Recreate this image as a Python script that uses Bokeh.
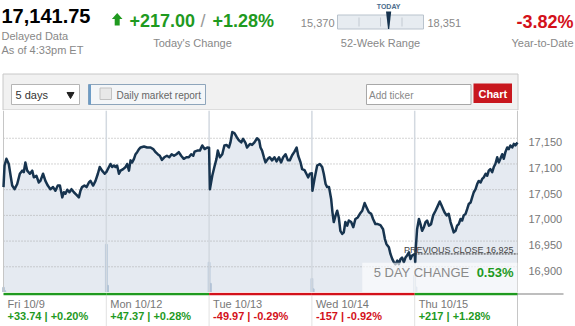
import numpy as np
from bokeh.plotting import figure
from bokeh.layouts import column
from bokeh.models import Range1d
from bokeh.core.properties import value
from bokeh.embed import file_html
from bokeh.resources import INLINE

# ---------------- quote summary ----------------
last_price = 17141.75
day_change = 217.00
day_change_pct = 1.28
low_52w = 15370
high_52w = 18351
ytd_pct = -3.82
as_of = "As of 4:33pm ET"

# ---------------- 5-day intraday index levels ----------------
# minutes after the 9:30 open, and index level at that minute
fri_t = [0, 4, 11, 20, 27, 33, 42, 52, 62, 71, 77, 83, 90, 100, 109, 115, 125, 134, 140, 150,
         159, 168, 178, 188, 197, 206, 214, 223, 229, 235, 242, 250, 258, 267, 277, 286, 292, 298,
         307, 315, 324, 330, 340, 349, 358, 365, 374, 384, 390]
fri_p = [17055, 17097, 17110, 17100, 17077, 17058, 17051, 17061, 17081, 17087, 17084, 17103, 17087,
         17081, 17087, 17074, 17077, 17064, 17067, 17081, 17067, 17058, 17051, 17055, 17048, 17058,
         17058, 17035, 17045, 17042, 17050, 17045, 17051, 17045, 17040, 17035, 17048, 17055, 17058,
         17055, 17064, 17067, 17058, 17067, 17081, 17094, 17087, 17081, 17084.35]

mon_t = [0, 10, 16, 22, 29, 35, 41, 48, 54, 64, 73, 79, 86, 92, 98, 105, 111, 117, 124, 130,
         143, 155, 168, 178, 187, 195, 203, 211, 220, 230, 239, 248, 257, 266, 275, 284, 294, 304,
         313, 322, 330, 335, 345, 355, 364, 373, 383, 390]
mon_p = [17084, 17094, 17100, 17094, 17097, 17094, 17097, 17081, 17087, 17090, 17094, 17100, 17087,
         17107, 17103, 17110, 17119, 17123, 17129, 17132, 17134, 17132, 17132, 17129, 17123, 17119,
         17116, 17108, 17113, 17116, 17113, 17119, 17116, 17119, 17123, 17116, 17110, 17113, 17113,
         17119, 17116, 17124, 17126, 17126, 17136, 17129, 17132, 17131.72]

tue_t = [0, 3, 12, 20, 28, 33, 41, 50, 58, 66, 75, 81, 88, 96, 104, 113, 122, 129, 138, 144,
         155, 163, 172, 182, 190, 195, 201, 208, 214, 223, 230, 239, 248, 256, 265, 273, 281, 290,
         299, 306, 315, 324, 332, 338, 347, 353, 362, 369, 376, 382, 390]
tue_p = [17128, 17051, 17077, 17094, 17110, 17126, 17113, 17119, 17136, 17137, 17132, 17142, 17162,
         17160, 17153, 17146, 17142, 17149, 17141, 17132, 17139, 17137, 17142, 17150, 17146, 17132,
         17126, 17113, 17103, 17110, 17113, 17107, 17113, 17105, 17113, 17103, 17113, 17119, 17107,
         17107, 17117, 17124, 17132, 17116, 17103, 17090, 17088, 17081, 17074, 17081, 17081.75]

wed_t = [0, 2, 10, 20, 30, 39, 45, 52, 58, 65, 73, 78, 83, 90, 96, 102, 108, 115, 121, 127,
         134, 140, 149, 157, 165, 174, 182, 191, 200, 207, 216, 225, 232, 241, 250, 260, 270, 277,
         283, 292, 298, 305, 311, 317, 324, 330, 336, 342, 349, 355, 361, 368, 374, 380, 390]
wed_p = [17078, 17048, 17071, 17097, 17100, 17094, 17081, 17061, 17055, 17055, 17032, 17006, 16987,
         17000, 17009, 16996, 16970, 16964, 16967, 16987, 16980, 16990, 16987, 16977, 16993, 16996,
         17003, 17009, 17024, 17016, 17006, 17003, 16993, 16983, 16983, 16981, 16973, 16954, 16944,
         16938, 16925, 16915, 16909, 16905, 16912, 16905, 16915, 16918, 16909, 16918, 16922, 16928,
         16915, 16922, 16924.75]

thu_t = [0, 2, 4, 9, 16, 22, 28, 35, 41, 47, 54, 62, 70, 79, 88, 95, 102, 108, 113, 121,
         129, 136, 142, 148, 155, 161, 167, 174, 180, 186, 193, 199, 205, 212, 218, 224, 231, 237,
         243, 250, 256, 262, 269, 275, 281, 287, 294, 300, 306, 313, 319, 325, 332, 338, 344, 351,
         357, 363, 370, 376, 382, 390]
thu_p = [16925, 16909, 16935, 16973, 16993, 16983, 16970, 16977, 16987, 16990, 16980, 16983, 17000,
         17009, 17019, 17027, 17019, 17012, 17006, 17000, 17003, 16987, 16977, 16967, 16970, 16980,
         16983, 16993, 16990, 17000, 17003, 17012, 17022, 17025, 17035, 17045, 17051, 17061, 17067,
         17064, 17071, 17074, 17081, 17077, 17087, 17090, 17084, 17094, 17100, 17113, 17103, 17110,
         17119, 17110, 17123, 17132, 17129, 17136, 17132, 17139, 17136, 17141.75]

days = ["Fri 10/9", "Mon 10/12", "Tue 10/13", "Wed 10/14", "Thu 10/15"]
day_chg = [33.74, 47.37, -49.97, -157, 217]
day_chg_pct = [0.20, 0.28, -0.29, -0.92, 1.28]
prev_close = 16925
five_day_pct = 0.53
y_ticks = [16900, 16950, 17000, 17050, 17100, 17150]

# opening-minute volume (millions of shares)
vol_day = [0, 0, 1, 1, 2, 2, 3, 3, 4, 4]
vol_min = [0, 5, 0, 5, 0, 5, 0, 5, 0, 5]
vol = [2.8, 1.0, 26.5, 3.9, 16.6, 5.0, 7.7, 2.0, 9.4, 3.0]

# ---------------- styling ----------------
FONT = "Liberation Sans"
GREEN = "#1f9a1f"
RED = "#d3111a"
GREY = "#888888"
NAVY = "#17344f"
W = 575
SESSION = 390.0
PLOT_L, PLOT_R = 3, 517            # pixel edges of the session area
n_days = len(days)
day_px = (PLOT_R - PLOT_L) / n_days
# shared horizontal range: whole canvas width expressed in trading days
x_lo, x_hi = -PLOT_L / day_px, (W - PLOT_L) / day_px


def label(p, x, y, s, size, color, bold=False, align="left", baseline="middle", font=FONT, **kw):
    p.text(x=[x], y=[y], text=[s], text_font=value(font), text_font_size=value(f"{size}px"),
           text_color=color, text_font_style="bold" if bold else "normal",
           text_align=align, text_baseline=baseline, **kw)


def sign_color(v):
    return GREEN if v >= 0 else RED


def bare_figure(height, x_range, y_range):
    return figure(width=W, height=height, x_range=x_range, y_range=y_range,
                  output_backend="svg", toolbar_location=None, x_axis_type=None, y_axis_type=None,
                  min_border=0, outline_line_color=None,
                  background_fill_color="white", border_fill_color="white")


# ---------------- header: quote + controls (pixel space) ----------------
head = bare_figure(110, Range1d(0, W), Range1d(110, 0))

label(head, 1, 15, f"{last_price:,.2f}", 20, "#000000", bold=True)
label(head, 1, 35, "Delayed Data", 11, GREY)
label(head, 1, 49, as_of, 11, GREY)

# up arrow
head.patch([116.7, 122, 119.2, 119.2, 114.2, 114.2, 111.4],
           [12.5, 18.5, 18.5, 25, 25, 18.5, 18.5], color=sign_color(day_change), line_width=0)
label(head, 129, 20, f"{day_change:+.2f}", 18, sign_color(day_change), bold=True)
label(head, 202.5, 20, "/", 18, "#999999", align="center")
label(head, 212, 20, f"{day_change_pct:+.2f}%", 18, sign_color(day_change_pct), bold=True)
label(head, 192, 42, "Today's Change", 11, GREY, align="center")

# 52-week range gauge
bar_l, bar_w = 337, 86
label(head, bar_l - 3, 22, f"{low_52w:,}", 11, GREY, align="right")
label(head, bar_l + bar_w + 4, 22, f"{high_52w:,}", 11, GREY)
head.quad(left=bar_l, right=bar_l + bar_w, top=14.5, bottom=28.5,
          fill_color="#e7ecf1", line_color="#b9c3cd", line_width=1)
q = [bar_l + bar_w * f for f in (0.25, 0.5, 0.75)]
head.segment(x0=q, x1=q, y0=17, y1=26, line_color="#c3cad2", line_width=1)
px = bar_l + bar_w * (last_price - low_52w) / (high_52w - low_52w)
head.patch([px - 2.6, px + 2.6, px + 0.6, px - 0.6], [11, 11, 28.5, 28.5],
           color=NAVY, line_width=0)
label(head, px, 5.5, "TODAY", 7, "#4b6c8c", bold=True, align="center")
label(head, bar_l + bar_w / 2, 42, "52-Week Range", 11, GREY, align="center")

label(head, 573, 21.5, f"{ytd_pct:+.2f}%", 18, sign_color(ytd_pct), bold=True, align="right")
label(head, 573, 42, "Year-to-Date", 11, GREY, align="right")

# control strip
head.quad(left=PLOT_L - 0.5, right=PLOT_R + 0.5, top=73.5, bottom=109.5, fill_color="#f1f1f1",
          line_color="#c8c8c8", line_width=1)
head.quad(left=11, right=79, top=84, bottom=104, fill_color="white", line_color="#b5b5b5")
label(head, 15, 94.5, "5 days", 11, "#333333")
head.scatter([70], [94], marker="inverted_triangle", size=7, color="#222222")

head.quad(left=88, right=205, top=84, bottom=104, fill_color="#f4f6f8", line_color="#8ea5bb")
head.quad(left=88, right=90.5, top=84, bottom=104, fill_color="#6d9cc6", line_width=0)
head.quad(left=99.5, right=111, top=87.5, bottom=99, fill_color="#e8e8e8", line_color="#c2c2c2")
label(head, 116, 94.5, "Daily market report", 10, "#666666")

head.quad(left=366, right=470.5, top=84, bottom=104, fill_color="white", line_color="#a8a8a8")
label(head, 368.5, 94.5, "Add ticker", 10, "#888888")
head.quad(left=473, right=511.5, top=83, bottom=102.5, fill_color="#c8171e", line_width=0)
label(head, 492.3, 93, "Chart", 11, "white", bold=True, align="center")

# ---------------- price chart ----------------
xs = np.concatenate([i + np.asarray(t) / SESSION
                     for i, t in enumerate([fri_t, mon_t, tue_t, wed_t, thu_t])])
ps = np.concatenate([fri_p, mon_p, tue_p, wed_p, thu_p])

chart = bare_figure(182, Range1d(x_lo, x_hi), Range1d(16850, 17204))
chart.extra_y_ranges = {"vol": Range1d(0, 100)}
y0 = chart.y_range.start
y1 = chart.y_range.end

chart.varea(x=xs, y1=y0, y2=ps, fill_color="#e5eaf1", level="image")
vx = [d + m / SESSION for d, m in zip(vol_day, vol_min)]
chart.vbar(x=vx, top=vol, bottom=0, width=0.017, y_range_name="vol",
           color="#b3c4d7", level="image")

# dotted price grid over the session area, with its labels on the right
chart.segment(x0=0, x1=n_days, y0=y_ticks, y1=y_ticks, line_color="#a8a8a8",
              line_width=1, line_dash="1 2", level="underlay")
chart.text(x=n_days, y=y_ticks, text=[f"{t:,}" for t in y_ticks], x_offset=11,
           text_font=value(FONT), text_font_size=value("11px"), text_color="#777777",
           text_align="left", text_baseline="top")

seps = list(range(1, n_days))
chart.segment(x0=seps, x1=seps, y0=y0, y1=y1, line_color="#d3d9e0", line_width=1.5,
              level="underlay")
chart.segment(x0=[0, n_days], x1=[0, n_days], y0=y0, y1=y1, line_color="#c6c6c6",
              line_width=1)

chart.line(xs, ps, line_color=NAVY, line_width=2.5, line_join="round")

# previous close marker on the last session
last = n_days - 1
chart.segment(x0=[last], x1=[n_days], y0=[prev_close], y1=[prev_close],
              line_color="#333333", line_width=1, line_dash="2 1")
label(chart, n_days, prev_close, f"PREVIOUS CLOSE {prev_close:,}", 9, "#444444",
      align="right", baseline="alphabetic", x_offset=-4, y_offset=-4)

# 5-day change box
chart.quad(left=3.49, right=n_days, bottom=y0, top=16908, fill_color="white",
           fill_alpha=0.62, line_width=0)
label(chart, n_days, 16888, f"{five_day_pct:.2f}%", 13, sign_color(five_day_pct), bold=True,
      align="right", x_offset=-4)
label(chart, n_days, 16888, "5 DAY CHANGE", 13, "#8a8a8a", align="right", x_offset=-48)

# ---------------- per-day summary strip ----------------
foot = bare_figure(34, Range1d(x_lo, x_hi), Range1d(34, 0))

foot.segment(x0=seps, x1=seps, y0=3, y1=34, line_color="#e2e2e2", line_width=1)
foot.segment(x0=[n_days], x1=[n_days], y0=0, y1=34, line_color="#c6c6c6", line_width=1)
foot.segment(x0=[n_days], x1=[(563 - PLOT_L) / day_px], y0=1.5, y1=1.5,
             line_color="#a8a8a8", line_width=1.5)
starts = list(range(n_days))
foot.segment(x0=starts, x1=[s + 1 for s in starts], y0=1.5, y1=1.5,
             line_color=[sign_color(c) for c in day_chg], line_width=2.5)

chg_text = [f"{c:+g} | {p:+.2f}%" for c, p in zip(day_chg, day_chg_pct)]
foot.text(x=starts, y=11, text=days, x_offset=4, text_font=value(FONT),
          text_font_size=value("11px"), text_color="#777777", text_baseline="middle")
foot.text(x=starts, y=23, text=chg_text, x_offset=4, text_font=value(FONT),
          text_font_size=value("11px"), text_font_style="bold",
          text_color=[sign_color(c) for c in day_chg], text_baseline="middle")

layout = column(head, chart, foot, spacing=0)
open("out.html", "w").write(file_html(layout, INLINE))
